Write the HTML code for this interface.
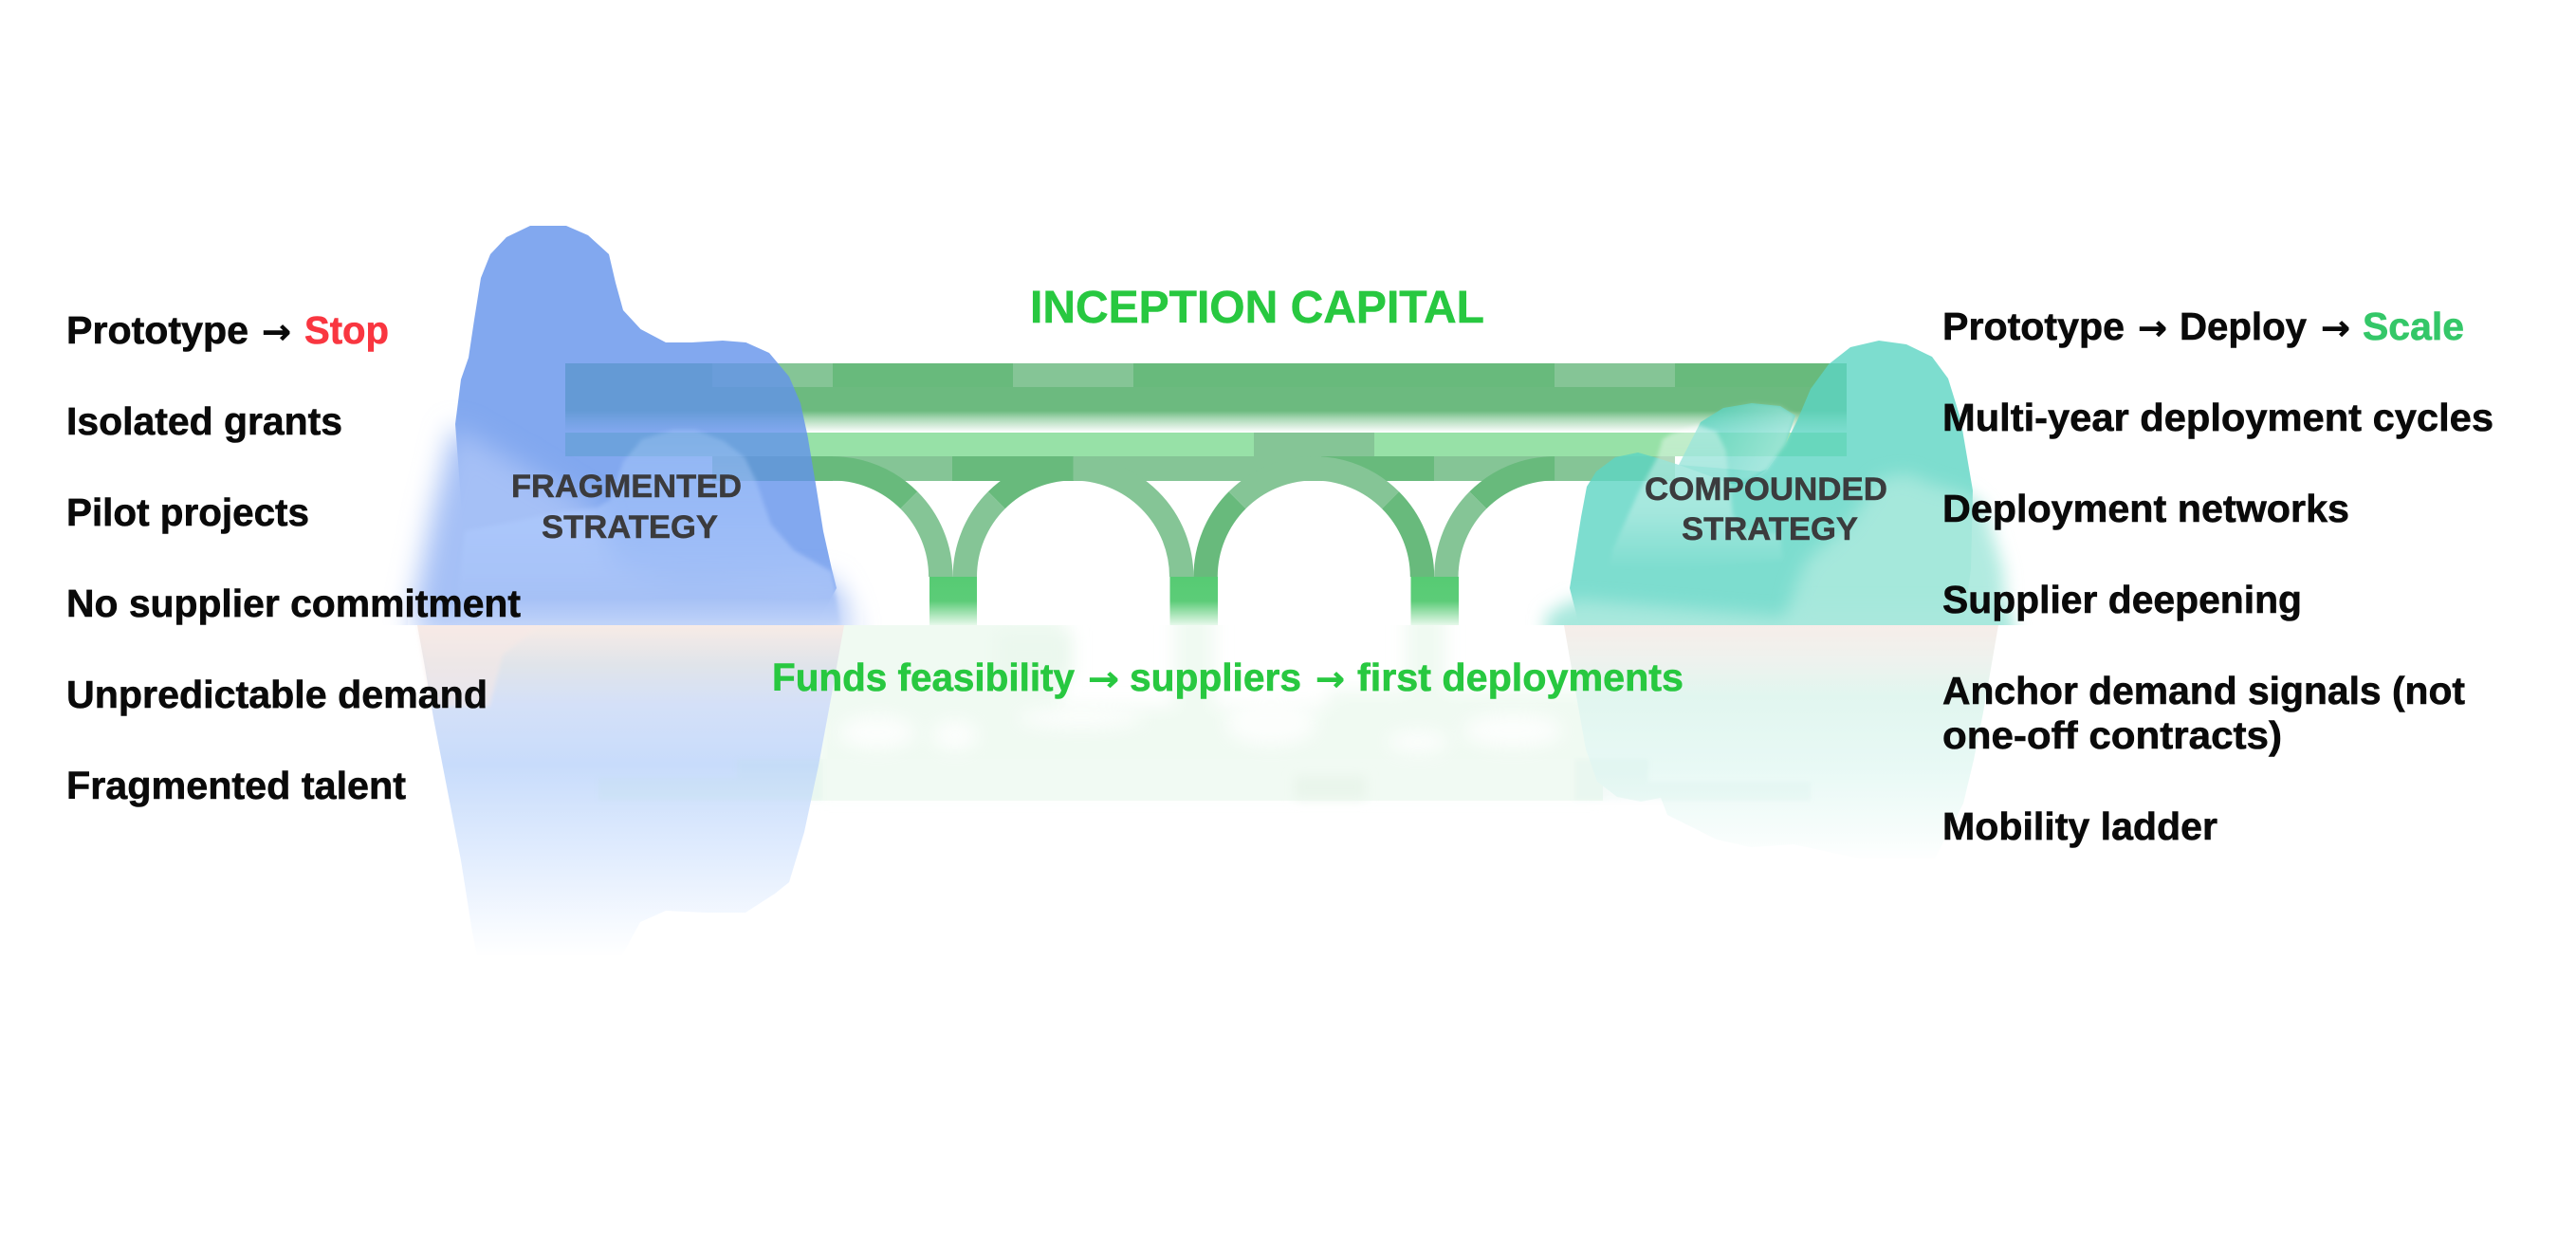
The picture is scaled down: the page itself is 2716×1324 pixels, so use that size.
<!DOCTYPE html>
<html><head><meta charset="utf-8"><style>
html,body{margin:0;padding:0;background:#fff}
svg{display:block}
text{font-family:"Liberation Sans",sans-serif;font-weight:700}
text.a{font-family:"DejaVu Sans",sans-serif}
</style></head><body>
<svg width="2716" height="1324" viewBox="0 0 2716 1324" xmlns="http://www.w3.org/2000/svg">
<defs>
<linearGradient id="fade" x1="0" y1="0" x2="0" y2="1"><stop offset="0" stop-color="#6cba7f"/><stop offset=".35" stop-color="#a8d8b4"/><stop offset="1" stop-color="#fff"/></linearGradient>
<linearGradient id="pier" x1="0" y1="608" x2="0" y2="659" gradientUnits="userSpaceOnUse"><stop offset="0" stop-color="#56cb73"/><stop offset=".5" stop-color="#5ccc78"/><stop offset="1" stop-color="#e6f8ea"/></linearGradient>
<linearGradient id="blueLow" x1="0" y1="659" x2="0" y2="1010" gradientUnits="userSpaceOnUse">
<stop offset="0" stop-color="#f7ebe6"/><stop offset=".12" stop-color="#e0e4ea"/><stop offset=".24" stop-color="#d4e0f8"/><stop offset=".42" stop-color="#c8dcfb"/><stop offset=".7" stop-color="#e2edfe"/><stop offset=".92" stop-color="#f8fbff"/><stop offset="1" stop-color="#fff"/></linearGradient>
<linearGradient id="tealLow" x1="0" y1="659" x2="0" y2="910" gradientUnits="userSpaceOnUse">
<stop offset="0" stop-color="#f6ede9"/><stop offset=".15" stop-color="#eef2ee"/><stop offset=".3" stop-color="#e1f6ef"/><stop offset=".6" stop-color="#e8f9f5"/><stop offset=".9" stop-color="#f8fdfc"/><stop offset="1" stop-color="#fff"/></linearGradient>
<linearGradient id="hump" x1="0" y1="450" x2="0" y2="630" gradientUnits="userSpaceOnUse"><stop offset="0" stop-color="#b8d8ff" stop-opacity=".25"/><stop offset=".5" stop-color="#b0ccff" stop-opacity=".5"/><stop offset="1" stop-color="#a6c1f6" stop-opacity=".9"/></linearGradient>
<linearGradient id="band" x1="0" y1="630" x2="0" y2="659" gradientUnits="userSpaceOnUse"><stop offset="0" stop-color="#fff" stop-opacity="0"/><stop offset="1" stop-color="#fff" stop-opacity=".3"/></linearGradient>
<linearGradient id="tealFogA" x1="0" y1="450" x2="0" y2="600" gradientUnits="userSpaceOnUse"><stop offset="0" stop-color="#fff" stop-opacity=".42"/><stop offset=".6" stop-color="#fff" stop-opacity=".3"/><stop offset="1" stop-color="#fff" stop-opacity="0"/></linearGradient>
<linearGradient id="tealFogB" x1="1800" y1="440" x2="1890" y2="490" gradientUnits="userSpaceOnUse"><stop offset="0" stop-color="#fff" stop-opacity="0"/><stop offset="1" stop-color="#fff" stop-opacity=".4"/></linearGradient>
<filter id="b2" filterUnits="userSpaceOnUse" x="0" y="0" width="2716" height="1324"><feGaussianBlur stdDeviation="2"/></filter>
<filter id="b6" filterUnits="userSpaceOnUse" x="0" y="0" width="2716" height="1324"><feGaussianBlur stdDeviation="6"/></filter>
<filter id="b14" filterUnits="userSpaceOnUse" x="0" y="0" width="2716" height="1324"><feGaussianBlur stdDeviation="14"/></filter>
<filter id="b8" filterUnits="userSpaceOnUse" x="0" y="0" width="2716" height="1324"><feGaussianBlur stdDeviation="9"/></filter>
<clipPath id="up"><rect x="0" y="0" width="2716" height="659"/></clipPath>
<clipPath id="down"><rect x="0" y="659" width="2716" height="665"/></clipPath>
</defs>

<!-- reflection below waterline -->
<g clip-path="url(#down)">
  <g filter="url(#b8)" fill="#f0faf2">
    <rect x="860" y="640" width="260" height="105"/>
    <rect x="860" y="745" width="830" height="90"/>
    <rect x="1238" y="640" width="42" height="120"/>
    <rect x="1482" y="640" width="42" height="120"/>
    <rect x="1400" y="728" width="280" height="30"/>
  </g>
  <rect x="840" y="800" width="850" height="44" fill="#f1faf3"/>
  <rect x="1050" y="665" width="80" height="50" fill="#ebf8ee" filter="url(#b8)"/>
  <rect x="1365" y="818" width="75" height="24" fill="#e9f5eb" filter="url(#b6)"/>
  <g fill="#fff" filter="url(#b8)" opacity=".8">
    <ellipse cx="925" cy="772" rx="40" ry="18"/>
    <ellipse cx="1007" cy="775" rx="24" ry="16"/>
    <ellipse cx="1140" cy="757" rx="66" ry="11"/>
    <ellipse cx="1340" cy="762" rx="48" ry="24"/>
    <ellipse cx="1495" cy="782" rx="32" ry="12"/>
    <ellipse cx="1595" cy="770" rx="52" ry="18"/>
  </g>
  <polygon fill="url(#blueLow)" points="440,659 448,703 457,757 475,850 486,907 498,983 503,1007 656,1007 675,972 702,960 744,962 786,962 817,942 832,930 848,877 863,807 876,737 890,659"/>
  <polygon fill="#f8e9e6" fill-opacity=".55" filter="url(#b2)" points="440,659 570,659 530,690 516,745 454,745"/>
  <polygon fill="url(#tealLow)" points="1649,659 1661,728 1672,790 1684,824 1705,840 1730,845 1751,841 1758,859 1810,885 1846,893 1891,890 1960,905 2040,905 2070,847 2081,801 2091,751 2107,659"/>
  <g fill="#b4dcd4" fill-opacity=".12" filter="url(#b2)">
    <rect x="777" y="800" width="90" height="20"/><rect x="631" y="820" width="236" height="24"/>
    <rect x="1660" y="800" width="78" height="24"/><rect x="1660" y="824" width="249" height="20"/>
  </g>
</g>

<!-- bridge -->
<g clip-path="url(#up)">
<rect x="596" y="383" width="1351" height="50" fill="#68ba7c"/>
<rect x="596" y="408" width="1351" height="25" fill="#6cba7f"/>
<rect x="596" y="433" width="1351" height="23" fill="url(#fade)"/>
<g fill="#85c596">
<rect x="751" y="383" width="127" height="25"/><rect x="1068" y="383" width="127" height="25"/><rect x="1639" y="383" width="127" height="25"/>
</g>
<rect x="596" y="456" width="1351" height="25" fill="#97e1a7"/>
<rect x="1322" y="456" width="127" height="25" fill="#85c596"/>
<rect x="751" y="481" width="1015" height="26" fill="#68ba7c"/>
<g fill="#85c596">
<rect x="878" y="481" width="126" height="26"/><rect x="1132" y="481" width="261" height="26"/><rect x="1512" y="481" width="254" height="26"/>
</g>
<g fill="none" stroke-width="25.4">
<path stroke="#68ba7c" d="M877.6,493.8A114.2,114.2 0 0 1 958.35,527.25"/>
<path stroke="#85c596" d="M958.35,527.25A114.2,114.2 0 0 1 991.8,608"/>
<path stroke="#85c596" d="M1017.3,608A114.2,114.2 0 0 1 1050.75,527.25"/>
<path stroke="#68ba7c" d="M1050.75,527.25A114.2,114.2 0 0 1 1131.5,493.8"/>
<path stroke="#85c596" d="M1131.5,493.8A114.2,114.2 0 0 1 1245.7,608"/>
<path stroke="#68ba7c" d="M1271.1,608A114.2,114.2 0 0 1 1304.55,527.25"/>
<path stroke="#85c596" d="M1304.55,527.25A114.2,114.2 0 0 1 1385.3,493.8A114.2,114.2 0 0 1 1466.05,527.25"/>
<path stroke="#68ba7c" d="M1466.05,527.25A114.2,114.2 0 0 1 1499.5,608"/>
<path stroke="#85c596" d="M1524.9,608A114.2,114.2 0 0 1 1558.35,527.25"/>
<path stroke="#68ba7c" d="M1558.35,527.25A114.2,114.2 0 0 1 1639.1,493.8"/>
</g>
<g fill="url(#pier)">
<rect x="980" y="608" width="50" height="51"/><rect x="1233.5" y="608" width="50.5" height="51"/><rect x="1487.5" y="608" width="50.5" height="51"/>
</g>
</g>

<!-- blue blob -->
<g clip-path="url(#up)">
<polygon fill="#6392eb" fill-opacity=".8" points="495,659 484,500 480,447 486,400 494,377 500,337 507,293 517,268 534,250 559,238 597,238 620,248 642,268 649,298 657,327 675.5,347 702,361 729,361 762,359 786.5,361 811,372 832,397 844,425 851.6,460 860,510 868,560 877,600 882,620 860,659"/>
<polygon fill="#a5c0f6" filter="url(#b14)" points="478,450 540,485 625,535 650,600 720,625 840,612 878,612 896,650 898,690 440,690 436,640 456,540"/>
<polygon fill="url(#hump)" filter="url(#b2)" points="630,535 643,527 657,487 677,463 710,453 733,453 763,465 785,482 797,507 813,553 837,580 877,603 886,659 480,659 490,560 590,540"/>
<rect x="430" y="630" width="480" height="29" fill="url(#band)"/>
</g>

<!-- teal blob -->
<g clip-path="url(#up)">
<polygon fill="#5cd4c3" fill-opacity=".8" points="1665,659 1655,620 1667,545 1673,513 1683,497 1703,482 1727,477 1748,483 1770,490 1856,497 1863,495 1883,467 1895,443 1909,410 1928,384 1951,366 1981,359 2010,363 2037,376 2054,399 2067,441 2080,517 2078,600 2070,659"/>
<polygon fill="#5cd4c3" fill-opacity=".78" points="1770,490 1793,445 1817,430 1847,425 1877,428 1893,438 1883,467 1863,495 1840,510 1825,510"/>
<polygon fill="url(#tealFogB)" filter="url(#b2)" points="1793,445 1817,430 1847,425 1877,428 1893,438 1883,467 1863,495 1840,508 1823,503 1820,475 1810,455"/>
<polygon fill="url(#tealFogA)" filter="url(#b2)" points="1697,597 1700,580 1727,520 1747,483 1753,463 1763,457 1790,448 1810,455 1820,475 1823,503 1827,543 1837,557 1877,563 1880,590 1760,600"/>
<polygon fill="#a9e9dd" fill-opacity=".9" filter="url(#b8)" points="1882,670 1890,625 1905,590 1950,550 1980,505 2010,499 2037,510 2074,520 2092,535 2112,600 2116,670"/>
<polygon fill="#a8e8dd" filter="url(#b8)" points="1630,648 1660,632 1760,640 1880,650 1900,640 2116,640 2125,680 1630,680"/>
</g>

<!-- labels -->
<g fill="#0a0a0a" stroke="#0a0a0a" stroke-width=".6" font-size="41">
<text x="70" y="362" textLength="192" lengthAdjust="spacingAndGlyphs">Prototype</text>
<text class="a" x="276" y="362" font-size="36" textLength="31" lengthAdjust="spacingAndGlyphs">→</text>
<text x="321" y="362" textLength="89" lengthAdjust="spacingAndGlyphs" fill="#f93640" stroke="#f93640">Stop</text>
<text x="70" y="458" textLength="291" lengthAdjust="spacingAndGlyphs">Isolated grants</text>
<text x="70" y="554" textLength="256" lengthAdjust="spacingAndGlyphs">Pilot projects</text>
<text x="70" y="650" textLength="479" lengthAdjust="spacingAndGlyphs">No supplier commitment</text>
<text x="70" y="746" textLength="444" lengthAdjust="spacingAndGlyphs">Unpredictable demand</text>
<text x="70" y="842" textLength="358" lengthAdjust="spacingAndGlyphs">Fragmented talent</text>

<text x="2048" y="358" textLength="192" lengthAdjust="spacingAndGlyphs">Prototype</text>
<text class="a" x="2254" y="358" font-size="36" textLength="31" lengthAdjust="spacingAndGlyphs">→</text>
<text x="2298" y="358" textLength="134" lengthAdjust="spacingAndGlyphs">Deploy</text>
<text class="a" x="2447" y="358" font-size="36" textLength="31" lengthAdjust="spacingAndGlyphs">→</text>
<text x="2491" y="358" textLength="107" lengthAdjust="spacingAndGlyphs" fill="#34c768" stroke="#34c768">Scale</text>
<text x="2048" y="454" textLength="581" lengthAdjust="spacingAndGlyphs">Multi-year deployment cycles</text>
<text x="2048" y="550" textLength="429" lengthAdjust="spacingAndGlyphs">Deployment networks</text>
<text x="2048" y="646" textLength="379" lengthAdjust="spacingAndGlyphs">Supplier deepening</text>
<text x="2048" y="742" textLength="551" lengthAdjust="spacingAndGlyphs">Anchor demand signals (not</text>
<text x="2048" y="789" textLength="358" lengthAdjust="spacingAndGlyphs">one-off contracts)</text>
<text x="2048" y="885" textLength="290" lengthAdjust="spacingAndGlyphs">Mobility ladder</text>
</g>
<g fill="#3b3b3d" stroke="#3b3b3d" stroke-width=".5" font-size="34">
<text x="539" y="524" textLength="243" lengthAdjust="spacingAndGlyphs">FRAGMENTED</text>
<text x="571" y="567" textLength="186" lengthAdjust="spacingAndGlyphs">STRATEGY</text>
<text x="1734" y="527" textLength="256" lengthAdjust="spacingAndGlyphs">COMPOUNDED</text>
<text x="1773" y="569" textLength="186" lengthAdjust="spacingAndGlyphs">STRATEGY</text>
</g>
<text x="1086" y="340" font-size="48" fill="#28c840" stroke="#28c840" stroke-width=".5" textLength="479" lengthAdjust="spacingAndGlyphs">INCEPTION CAPITAL</text>
<g fill="#28c840" stroke="#28c840" stroke-width=".6" font-size="41">
<text x="814" y="728" textLength="319" lengthAdjust="spacingAndGlyphs">Funds feasibility</text>
<text class="a" x="1147" y="728" font-size="36" textLength="33" lengthAdjust="spacingAndGlyphs">→</text>
<text x="1191" y="728" textLength="181" lengthAdjust="spacingAndGlyphs">suppliers</text>
<text class="a" x="1387" y="728" font-size="36" textLength="31" lengthAdjust="spacingAndGlyphs">→</text>
<text x="1431" y="728" textLength="344" lengthAdjust="spacingAndGlyphs">first deployments</text>
</g>
</svg>
</body></html>
